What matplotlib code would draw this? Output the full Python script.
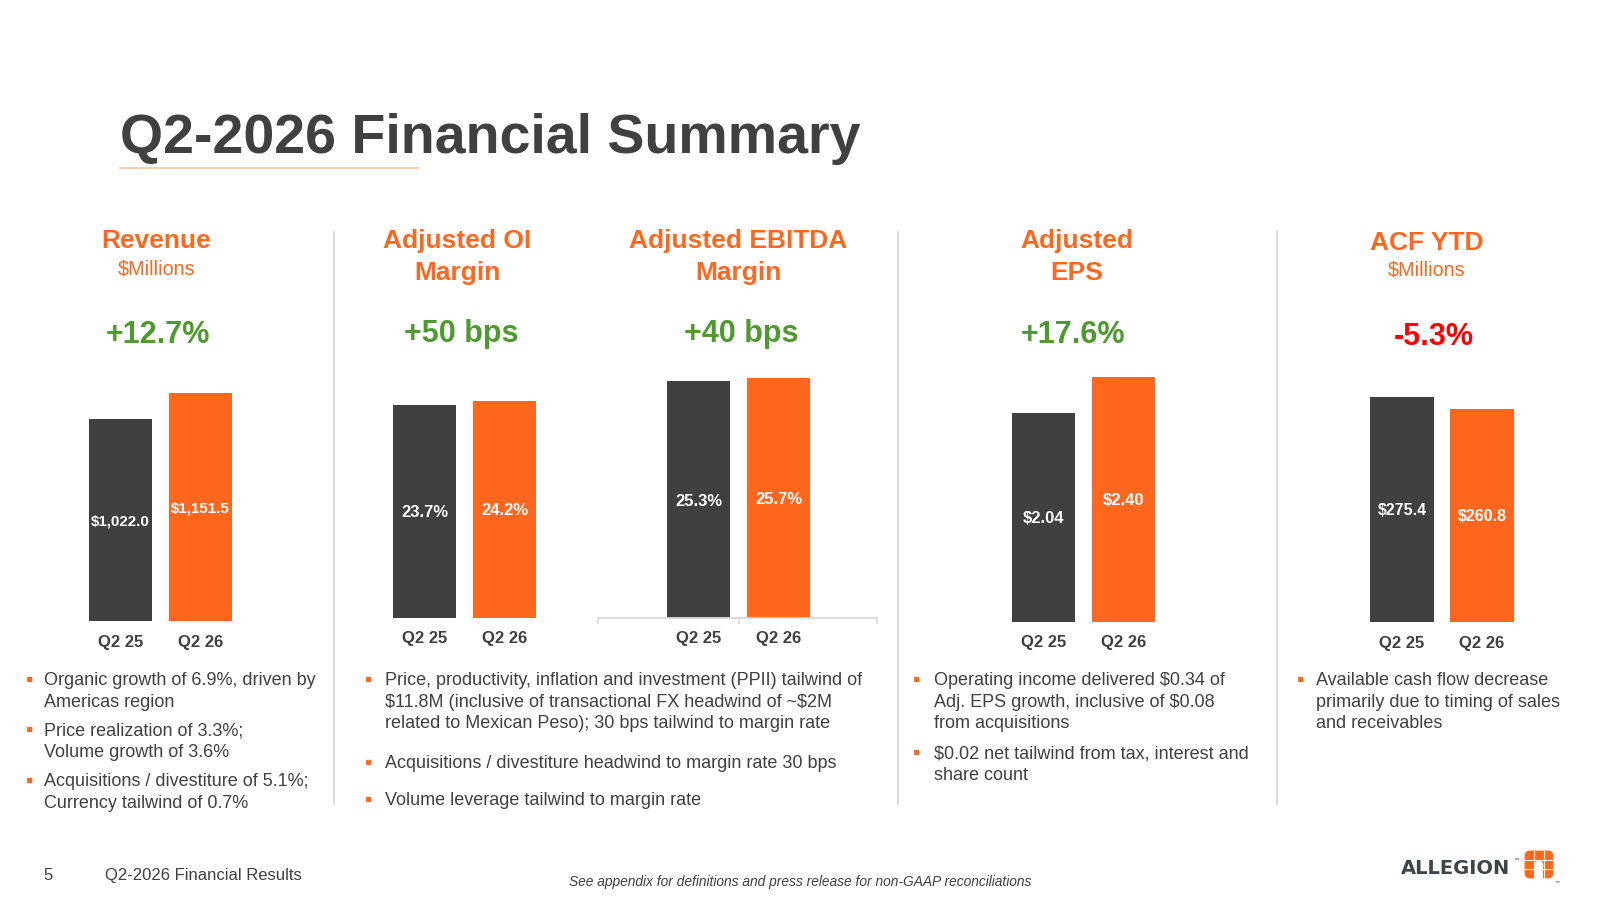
import matplotlib.pyplot as plt
from matplotlib.patches import FancyBboxPatch, Rectangle
from matplotlib.lines import Line2D
from matplotlib.transforms import offset_copy

plt.rcParams['font.family'] = ['Liberation Sans', 'DejaVu Sans']
plt.rcParams['text.parse_math'] = False  # dollar signs are literal here

# Slide is laid out in pixels (1600 x 900)
W, H = 1600, 900
DARK = '#404040'
ORANGE = '#FF671F'
GREEN = '#4E9A2E'
RED = '#FF0000'
LINE = '#D9D9D9'

# Data
periods = ['Q2 25', 'Q2 26']
revenue = [1022.0, 1151.5]
oi_margin = [23.7, 24.2]
ebitda_margin = [25.3, 25.7]
adj_eps = [2.04, 2.40]
acf_ytd = [275.4, 260.8]

headers = [['Revenue'], ['Adjusted OI', 'Margin'], ['Adjusted EBITDA', 'Margin'],
           ['Adjusted', 'EPS'], ['ACF YTD']]
subheaders = ['$Millions', None, None, None, '$Millions']
changes = ['+12.7%', '+50 bps', '+40 bps', '+17.6%', '-5.3%']
change_up = [True, True, True, True, False]

revenue_notes = [
    ['Organic growth of 6.9%, driven by', 'Americas region'],
    ['Price realization of 3.3%;', 'Volume growth of 3.6%'],
    ['Acquisitions / divestiture of 5.1%;', 'Currency tailwind of 0.7%'],
]
margin_notes = [
    ['Price, productivity, inflation and investment (PPII) tailwind of',
     '$11.8M (inclusive of transactional FX headwind of ~$2M',
     'related to Mexican Peso); 30 bps tailwind to margin rate'],
    ['Acquisitions / divestiture headwind to margin rate 30 bps'],
    ['Volume leverage tailwind to margin rate'],
]
eps_notes = [
    ['Operating income delivered $0.34 of', 'Adj. EPS growth, inclusive of $0.08',
     'from acquisitions'],
    ['$0.02 net tailwind from tax, interest and', 'share count'],
]
acf_notes = [
    ['Available cash flow decrease', 'primarily due to timing of sales',
     'and receivables'],
]


def fx(x):
    return x / W


def fy(y):
    return 1 - y / H


def ctext(x, yc, s, size, **kw):
    # place text so that its cap height is centred on yc (pixels)
    base = yc + 0.716 * size * 100 / 72 / 2
    return fig.text(fx(x), fy(base), s, fontsize=size, va='baseline', **kw)


fig = plt.figure(figsize=(16, 9), dpi=100)
fig.patch.set_facecolor('white')

# Title
fig.text(fx(120), fy(153), 'Q2-2026 Financial Summary', fontsize=40,
         fontweight='bold', color=DARK, va='baseline')
fig.add_artist(Line2D([fx(120), fx(418)], [fy(168), fy(168)], color='#F8CBAD', lw=1.4))

# Column separators
for x in [333.7, 898, 1276.5]:
    fig.add_artist(Line2D([fx(x), fx(x)], [fy(232), fy(804)], color=LINE, lw=1.4))

# Panel layout: bar centre of first bar, baseline, pixel height of tallest bar
panels = [
    dict(values=revenue, fmt='${:,.1f}', cx=120.5, base=621, top_h=228, vsize=10.9,
         hx=156.5, hy=[239], sy=267, chx=157.5, chy=332, xl=(-1, 2)),
    dict(values=oi_margin, fmt='{:.1f}%', cx=424.5, base=617.5, top_h=217, vsize=12,
         hx=457, hy=[239, 270.4], sy=None, chx=461, chy=331, xl=(-1, 2)),
    dict(values=ebitda_margin, fmt='{:.1f}%', cx=698.5, base=617.7, top_h=240, vsize=12,
         hx=738, hy=[239, 270.4], sy=None, chx=741, chy=331, xl=(-1.26, 2.23)),
    dict(values=adj_eps, fmt='${:.2f}', cx=1043.4, base=621.5, top_h=245, vsize=12,
         hx=1076.5, hy=[239, 270.4], sy=None, chx=1073.5, chy=332, xl=(-1, 2)),
    dict(values=acf_ytd, fmt='${:.1f}', cx=1402, base=622, top_h=225, vsize=11.5,
         hx=1426.5, hy=[241], sy=268, chx=1433.7, chy=333.7, xl=(-1, 2)),
]
SPACING = 80
AX_H = 300

for i, p in enumerate(panels):
    # headings
    for line, y in zip(headers[i], p['hy']):
        ctext(p['hx'], y, line, 19, fontweight='bold', color=ORANGE, ha='center')
    if subheaders[i]:
        ctext(p['hx'], p['sy'], subheaders[i], 14.2, color=ORANGE, ha='center')
    ctext(p['chx'], p['chy'], changes[i], 22, fontweight='bold',
          color=GREEN if change_up[i] else RED, ha='center')

    # bars
    left = p['cx'] + p['xl'][0] * SPACING
    right = p['cx'] + p['xl'][1] * SPACING
    ax = fig.add_axes([fx(left), fy(p['base']), (right - left) / W, AX_H / H])
    ax.patch.set_alpha(0)
    vals = p['values']
    ax.bar(range(len(vals)), vals, width=0.79, color=[DARK, ORANGE])
    ax.set_xlim(*p['xl'])
    ax.set_ylim(0, max(vals) * AX_H / p['top_h'])
    ax.set_yticks([])
    ax.set_xticks(range(len(periods)), periods)
    ax.tick_params(axis='x', length=0, pad=9.8, labelsize=12, labelcolor=DARK)
    for lbl in ax.get_xticklabels():
        lbl.set_fontweight('bold')
    for s in ax.spines.values():
        s.set_visible(False)
    if i == 2:
        ax.spines['bottom'].set_visible(True)
        ax.spines['bottom'].set_color(LINE)
        ax.spines['bottom'].set_linewidth(1.3)
        ax.set_xticks([p['xl'][0], 0.5, p['xl'][1]], minor=True)
        ax.tick_params(axis='x', which='minor', length=4, width=1.2, color=LINE)

    tr = offset_copy(ax.transData, fig=fig, x=0, y=-0.716 * p['vsize'] / 2, units='points')
    for j, v in enumerate(vals):
        ax.text(j, v / 2, p['fmt'].format(v), transform=tr, ha='center', va='baseline',
                color='white', fontweight='bold', fontsize=p['vsize'])

# Bullet notes
BODY = 13
STEP = 21.5
note_cols = [
    (revenue_notes, 30, 44, [679, 729, 780]),
    (margin_notes, 369, 385, [679, 762, 799]),
    (eps_notes, 917, 934, [679, 752]),
    (acf_notes, 1301, 1316, [679]),
]
for notes, bx, tx, starts in note_cols:
    for lines, y0 in zip(notes, starts):
        ctext(bx, y0 - 1, '\u25aa', 15, color=ORANGE, ha='center')
        for k, line in enumerate(lines):
            ctext(tx, y0 + k * STEP, line, BODY, color=DARK, ha='left')

# Footer
ctext(48, 874.5, '5', 12, color=DARK, ha='center')
ctext(105, 874.5, 'Q2-2026 Financial Results', 12, color=DARK, ha='left')
ctext(800, 880.6, 'See appendix for definitions and press release for non-GAAP reconciliations',
      9.9, color=DARK, ha='center', style='italic')

# Logo
fig.text(fx(1401), fy(874), 'ALLEGION', fontsize=14, fontweight='bold',
         family='DejaVu Sans', color='#3F4447', va='baseline')
fig.text(fx(1513), fy(862), '\u2122', fontsize=4, color='#3F4447', va='baseline')
lax = fig.add_axes([fx(1524), fy(879), 30 / W, 29 / H])
lax.set_xlim(0, 1)
lax.set_ylim(0, 1)
lax.axis('off')
lax.add_patch(FancyBboxPatch((0.02, 0.02), 0.96, 0.96, boxstyle='round,pad=0,rounding_size=0.18',
                             fc=ORANGE, ec='none'))
for v in [0.34, 0.66]:
    lax.plot([v, v], [0.02, 0.98], color='white', lw=0.8)
    lax.plot([0.02, 0.98], [v, v], color='white', lw=0.8)
lax.add_patch(Rectangle((0.36, 0.0), 0.28, 0.5, fc='white', ec='none'))
lax.add_patch(FancyBboxPatch((0.36, 0.3), 0.28, 0.32, boxstyle='round,pad=0,rounding_size=0.13',
                             fc='white', ec='none'))
fig.text(fx(1555), fy(883), '\u2122', fontsize=3.5, color='#3F4447', va='baseline')

fig.savefig('out.png', dpi=100)
